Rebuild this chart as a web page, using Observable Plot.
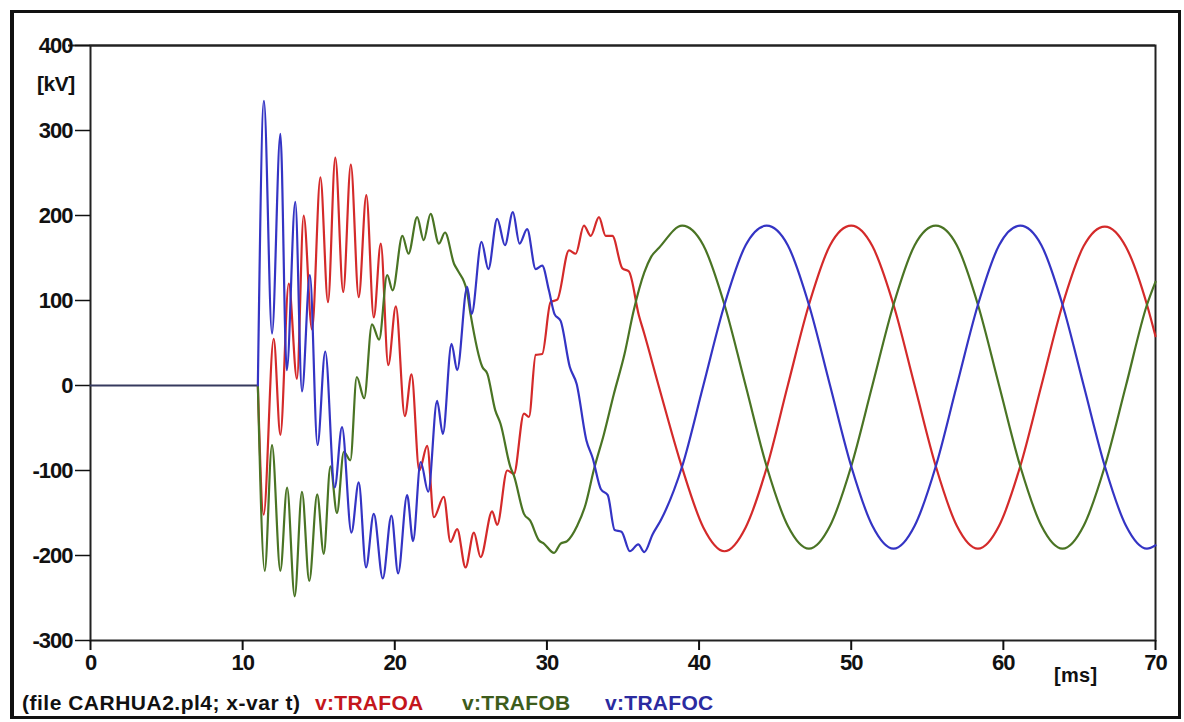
<!DOCTYPE html>
<html>
<head>
<meta charset="utf-8">
<script src="https://cdn.jsdelivr.net/npm/d3@7"></script>
<script src="https://cdn.jsdelivr.net/npm/@observablehq/plot@0.6"></script>
<style>
  body { margin: 0; background: #fff; }
  #wrap { position: relative; width: 1184px; height: 722px; overflow: hidden;
          font-family: "Liberation Sans", Arial, sans-serif; font-weight: bold; }
  #border { position: absolute; left: 10px; top: 10px; width: 1164px; height: 703px;
            border: 3px solid #111; border-left-width: 4px; }
  #chart { position: absolute; left: 0; top: 0; }
  .lbl { position: absolute; white-space: nowrap; color: #111; letter-spacing: 0.3px; }
</style>
</head>
<body>
<div id="wrap">
  <div id="border"></div>
  <div id="chart"></div>
  <div class="lbl" style="left:37px;top:72px;font-size:21px;letter-spacing:-0.5px;">[kV]</div>
  <div class="lbl" style="left:1054px;top:664px;font-size:20px;">[ms]</div>
  <div class="lbl" style="left:22px;top:691px;font-size:21px;letter-spacing:0.5px;">(file CARHUA2.pl4; x-var t)</div>
  <div class="lbl" style="left:315px;top:691px;font-size:21px;color:#c4161c;">v:TRAFOA</div>
  <div class="lbl" style="left:462px;top:691px;font-size:21px;color:#3d5c1c;">v:TRAFOB</div>
  <div class="lbl" style="left:605px;top:691px;font-size:21px;color:#2b2ba0;">v:TRAFOC</div>
</div>
<script>
// ---- data (time in ms, voltage in kV) ----
const xTicks = [0, 10, 20, 30, 40, 50, 60, 70];
const yTicks = [-300, -200, -100, 0, 100, 200, 300, 400];

// all phases at 0 kV before switching
const tPre = [0, 11.0];
const vPre = [0, 0];

// v:TRAFOA (red)
const tA = [11.0, 11.38, 12.04, 12.48, 13.03, 13.57, 14.01, 14.56, 15.11, 15.61, 16.09, 16.61, 17.11, 17.63, 18.13, 18.62, 19.08, 19.57, 20.07, 20.66, 21.10, 21.61, 22.13, 22.57, 23.22, 23.66, 24.10, 24.65, 25.20, 25.64, 26.40, 26.73, 27.39, 27.83, 28.49, 28.82, 29.26, 29.69, 30.24, 30.68, 31.45, 31.89, 32.43, 32.88, 33.42, 33.86, 34.30, 34.95, 35.39, 36.05, 36.38, 37.37, 38.89, 40.28, 41.67, 43.06, 44.44, 45.83, 47.22, 48.61, 50.00, 51.39, 52.78, 54.17, 55.56, 56.94, 58.33, 59.72, 61.11, 62.50, 63.89, 65.28, 66.67, 68.06, 69.44, 70.0];
const vA = [0, -152, 55, -58, 120, 8, 200, 66, 245, 98, 268, 110, 260, 104, 224, 80, 167, 24, 93, -36, 13, -100, -71, -155, -131, -184, -169, -214, -173, -202, -148, -164, -100, -104, -33, -37, 36, 37, 98, 101, 159, 155, 188, 176, 198, 176, 176, 138, 134, 82, 62, -2, -97, -167, -195, -167, -97, 0, 95, 165, 188, 164, 95, 0, -95, -165, -192, -165, -95, 0, 95, 164, 187, 163, 95, 58];

// v:TRAFOB (green)
const tB = [11.0, 11.45, 11.93, 12.48, 12.92, 13.42, 13.9, 14.38, 14.9, 15.33, 15.77, 16.2, 16.65, 17.08, 17.5, 17.99, 18.5, 18.97, 19.5, 19.86, 20.5, 20.9, 21.47, 21.9, 22.35, 22.9, 23.3, 23.9, 24.15, 24.73, 24.98, 25.75, 26.08, 26.6, 26.95, 27.6, 27.83, 28.49, 28.9, 29.47, 29.8, 30.47, 30.9, 31.33, 31.99, 32.54, 33.1, 33.75, 34.4, 35.1, 35.7, 36.4, 36.84, 37.37, 38.89, 40.28, 41.67, 43.06, 44.44, 45.83, 47.22, 48.61, 50.0, 51.39, 52.78, 54.17, 55.56, 56.94, 58.33, 59.72, 61.11, 62.5, 63.89, 65.28, 66.67, 68.06, 69.44, 70.0];
const vB = [0, -218, -70, -218, -120, -248, -125, -230, -128, -198, -95, -150, -78, -88, 10, -15, 72, 54, 130, 112, 176, 155, 198, 171, 202, 167, 180, 143, 135, 112, 84, 22, 14, -29, -45, -96, -106, -151, -159, -182, -186, -197, -186, -183, -165, -140, -98, -57, -10, 37, 88, 133, 151, 162, 188, 165, 95, 0, -95, -165, -192, -165, -95, 0, 95, 165, 188, 165, 95, 0, -95, -165, -192, -165, -95, 0, 95, 122];

// v:TRAFOC (blue)
const tC = [11.0, 11.40, 11.93, 12.48, 12.9, 13.46, 13.9, 14.42, 14.92, 15.43, 16.05, 16.53, 17.15, 17.63, 18.11, 18.62, 19.21, 19.78, 20.22, 20.81, 21.2, 21.7, 22.2, 22.78, 23.16, 23.73, 24.1, 24.76, 25.05, 25.7, 26.15, 26.73, 27.24, 27.76, 28.2, 28.7, 29.26, 29.69, 30.13, 30.5, 30.9, 31.5, 31.95, 32.6, 33.0, 33.55, 34.0, 34.45, 34.9, 35.45, 36.0, 36.4, 36.95, 37.5, 38.89, 40.28, 41.67, 43.06, 44.44, 45.83, 47.22, 48.61, 50.0, 51.39, 52.78, 54.17, 55.56, 56.94, 58.33, 59.72, 61.11, 62.5, 63.89, 65.28, 66.67, 68.06, 69.44, 70.0];
const vC = [0, 335, 61, 296, 18, 216, -7, 130, -70, 40, -120, -49, -173, -114, -214, -151, -227, -153, -221, -129, -183, -90, -125, -18, -57, 49, 18, 116, 84, 169, 137, 196, 165, 204, 167, 184, 137, 141, 112, 84, 76, 22, 2, -65, -85, -122, -129, -170, -172, -195, -187, -196, -175, -158, -95, 0, 95, 165, 188, 165, 95, 0, -95, -165, -192, -165, -95, 0, 95, 165, 188, 165, 95, 0, -95, -165, -192, -188];

const zip = (ts, vs) => ts.map((t, i) => ({t, v: vs[i]}));
const pre = zip(tPre, vPre);
const dataA = zip(tA, vA);
const dataB = zip(tB, vB);
const dataC = zip(tC, vC);

const chart = Plot.plot({
  width: 1184,
  height: 722,
  marginLeft: 90,
  marginRight: 29,
  marginTop: 45,
  marginBottom: 82,
  x: {domain: [0, 70], label: null},
  y: {domain: [-300, 400], label: null},
  style: {
    fontSize: "22px",
    fontWeight: "bold",
    fontFamily: "'Liberation Sans', Arial, sans-serif",
    background: "transparent",
    color: "#111",
    letterSpacing: "-1px"
  },
  marks: [
    Plot.frame({stroke: "#222", strokeWidth: 2}),
    Plot.ruleY([400], {stroke: "#222", strokeWidth: 2, insetLeft: -22}),
    Plot.axisX({ticks: xTicks, tickSize: 10, tickPadding: 4, strokeWidth: 2, tickFormat: d => String(d)}),
    Plot.axisY({ticks: yTicks, tickSize: 15, tickPadding: 3, strokeWidth: 1.5, tickFormat: d => String(d)}),
    Plot.line(pre, {x: "t", y: "v", stroke: "#363a5e", strokeWidth: 2.2}),
    Plot.line(dataA, {x: "t", y: "v", stroke: "#d42a2a", strokeWidth: 2.2, curve: "monotone-x"}),
    Plot.line(dataB, {x: "t", y: "v", stroke: "#4a7424", strokeWidth: 2.2, curve: "monotone-x"}),
    Plot.line(dataC, {x: "t", y: "v", stroke: "#3434c4", strokeWidth: 2.2, curve: "monotone-x"})
  ]
});
document.getElementById("chart").appendChild(chart);
</script>
</body>
</html>
